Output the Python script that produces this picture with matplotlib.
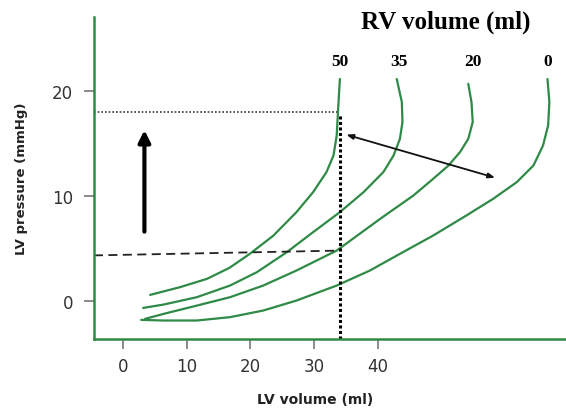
import numpy as np
import matplotlib
matplotlib.use("Agg")
import matplotlib.pyplot as plt

# LV pressure-volume curves for different RV volumes
rv_labels = ["50", "35", "20", "0"]

lv_vol_50 = [4.3, 9.0, 13.2, 16.7, 19.9, 23.6, 27.2, 29.8, 31.9, 33.0, 33.5, 33.7, 34.0]
lv_prs_50 = [0.54, 1.28, 2.07, 3.11, 4.45, 6.19, 8.42, 10.32, 12.23, 13.81, 15.71, 17.94, 21.1]

lv_vol_35 = [3.2, 6.4, 11.6, 16.8, 21.0, 25.7, 29.8, 34.0, 37.7, 40.8, 42.4, 43.4, 43.8, 43.7, 42.9]
lv_prs_35 = [-0.7, -0.38, 0.32, 1.43, 2.7, 4.61, 6.51, 8.42, 10.32, 12.23, 13.81, 15.4, 17.0, 18.9, 21.1]

lv_vol_20 = [3.5, 6.4, 11.6, 16.8, 22.0, 27.2, 33.5, 40.3, 45.5, 48.6, 51.0, 52.8, 54.1, 54.8, 54.6, 54.1]
lv_prs_20 = [-1.74, -1.27, -0.48, 0.32, 1.43, 2.86, 4.76, 7.78, 10.0, 11.59, 12.86, 14.13, 15.4, 17.0, 18.9, 20.64]

lv_vol_0 = [2.9, 6.4, 11.6, 16.8, 22.0, 27.2, 33.5, 38.7, 43.4, 48.6, 53.8, 58.0, 61.7, 64.3, 65.8, 66.6, 66.8, 66.5]
lv_prs_0 = [-1.84, -1.9, -1.9, -1.58, -0.95, 0.0, 1.43, 2.86, 4.45, 6.19, 8.1, 9.69, 11.28, 12.86, 14.76, 16.67, 18.9, 21.1]

label_x = [34.0, 43.3, 54.8, 66.5]

x_ticks = [0, 10, 20, 30, 40]
y_ticks = [0, 10, 20]

green = "#2e8a46"

fig = plt.figure(figsize=(5.66, 4.10), dpi=100)
ax = fig.add_axes([0.166, 0.171, 0.834, 0.785])

for xs, ys in [(lv_vol_50, lv_prs_50), (lv_vol_35, lv_prs_35),
               (lv_vol_20, lv_prs_20), (lv_vol_0, lv_prs_0)]:
    ax.plot(xs, ys, color=green, lw=1.6, solid_capstyle="round", solid_joinstyle="round")

# reference lines
ax.plot([-4.5, 33.5], [18.0, 18.0], color="#333333", lw=1.2, ls=(0, (1, 1.2)))
ax.plot([34.0, 34.0], [-3.7, 17.8], color="black", lw=2.2, ls=(0, (1, 0.8)))
ax.plot([-4.5, 34.0], [4.3, 4.76], color="#222222", lw=1.3, ls=(0, (5, 3)))

# arrows
ax.annotate("", xy=(3.4, 16.5), xytext=(3.4, 6.3),
            arrowprops=dict(arrowstyle="-|>,head_width=0.35,head_length=0.7",
                            color="black", lw=3))
ax.annotate("", xy=(35.0, 15.8), xytext=(58.3, 11.7),
            arrowprops=dict(arrowstyle="<|-|>,head_width=0.15,head_length=0.4",
                            color="#111111", lw=1.3, shrinkA=0, shrinkB=0))

for lab, x in zip(rv_labels, label_x):
    ax.text(x, 22.8, lab, ha="center", va="center", fontsize=12.5,
            fontweight="bold", family="Liberation Serif")
ax.text(50.6, 26.55, "RV volume (ml)", ha="center", va="center", fontsize=18,
        fontweight="bold", family="Liberation Serif")

ax.set_xlim(-4.5, 69.4)
ax.set_ylim(-3.65, 27.0)
ax.set_xticks(x_ticks)
ax.set_yticks(y_ticks)
ax.tick_params(colors="#777777", labelcolor="#333333", labelsize=12, length=7, width=1.2, pad=6)
ax.tick_params(axis="y", pad=8)

for side in ["top", "right"]:
    ax.spines[side].set_visible(False)
for side in ["left", "bottom"]:
    ax.spines[side].set_color(green)
    ax.spines[side].set_linewidth(1.8)

ax.set_xlabel("LV volume (ml)", fontsize=10, fontweight="bold", color="#222222")
ax.xaxis.set_label_coords(0.468, -0.166)
ax.set_ylabel("LV pressure (mmHg)", fontsize=9.5, fontweight="bold", color="#222222")
ax.yaxis.set_label_coords(-0.14, 0.5)

fig.savefig("out.png", dpi=100)
